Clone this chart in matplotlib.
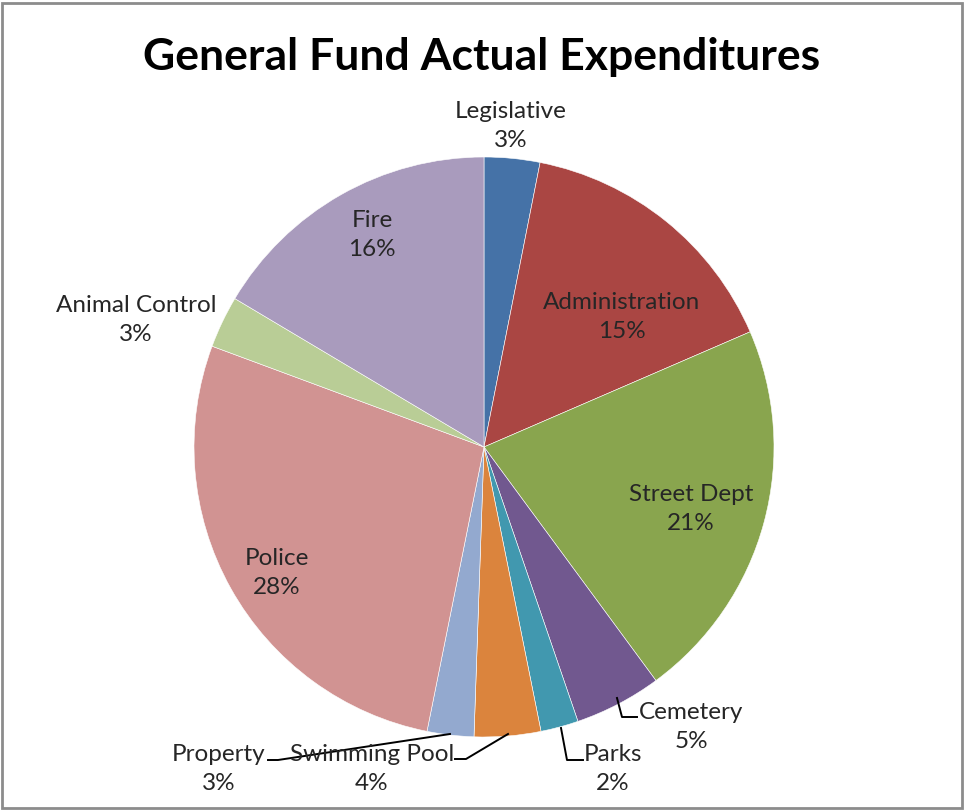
import matplotlib
matplotlib.use("Agg")
import matplotlib.pyplot as plt
from matplotlib.patches import Rectangle

# data (percent of general fund)
categories = ["Legislative", "Administration", "Street Dept", "Cemetery", "Parks",
              "Swimming Pool", "Property", "Police", "Animal Control", "Fire"]
shares = [3.1, 15.4, 21.4, 4.85, 2.1, 3.7, 2.6, 27.5, 2.9, 16.45]
colors = ["#4572A7", "#AA4643", "#89A54E", "#71588F", "#4198AF",
          "#DB843D", "#93A9CF", "#D19392", "#B9CD96", "#A99BBD"]

W, H = 964, 810
plt.rcParams['font.family'] = ['Lato', 'DejaVu Sans']

fig = plt.figure(figsize=(W / 100, H / 100), dpi=100)
ax = fig.add_axes([0, 0, 1, 1])

def py(y):
    # picture rows counted from the top
    return H - y

cx, cy, r = 484, 447, 290
ax.pie(shares, colors=colors, startangle=90, counterclock=False,
       center=(cx, py(cy)), radius=r, frame=True,
       wedgeprops=dict(edgecolor='white', linewidth=0.4))
ax.set_xlim(0, W)
ax.set_ylim(0, H)
ax.set_aspect('equal')
ax.axis('off')

# label centres and optional leader lines (pixel coords)
label_pos = {
    "Legislative": (511, 126),
    "Administration": (622, 317),
    "Street Dept": (691, 509),
    "Cemetery": (691, 727),
    "Parks": (613, 769),
    "Swimming Pool": (372, 769),
    "Property": (219, 769),
    "Police": (277, 573),
    "Animal Control": (136, 320),
    "Fire": (372, 235),
}
leaders = {
    "Cemetery": [(617, 698), (622, 717), (637, 717)],
    "Parks": [(561, 728), (567, 760), (583, 760)],
    "Swimming Pool": [(508, 734), (466, 759), (455, 759)],
    "Property": [(450, 734), (278, 760), (268, 760)],
}

for name, val in zip(categories, shares):
    x, y = label_pos[name]
    ax.text(x, py(y), f"{name}\n{round(val):.0f}%", ha='center', va='center',
            fontsize=17.5, color='#262626', linespacing=1.5)
    if name in leaders:
        pts = leaders[name]
        ax.plot([p[0] for p in pts], [py(p[1]) for p in pts], color='black', lw=1.4)

ax.text(482, py(57), "General Fund Actual Expenditures", ha='center', va='center',
        fontsize=32, fontweight='bold', color='black')

# chart frame
fig.patches.append(Rectangle((1.5 / W, 2 / H), (W - 4) / W, (H - 5) / H,
                             transform=fig.transFigure, fill=False,
                             edgecolor='#8c8c8c', linewidth=2))

fig.savefig("out.png", dpi=100)
